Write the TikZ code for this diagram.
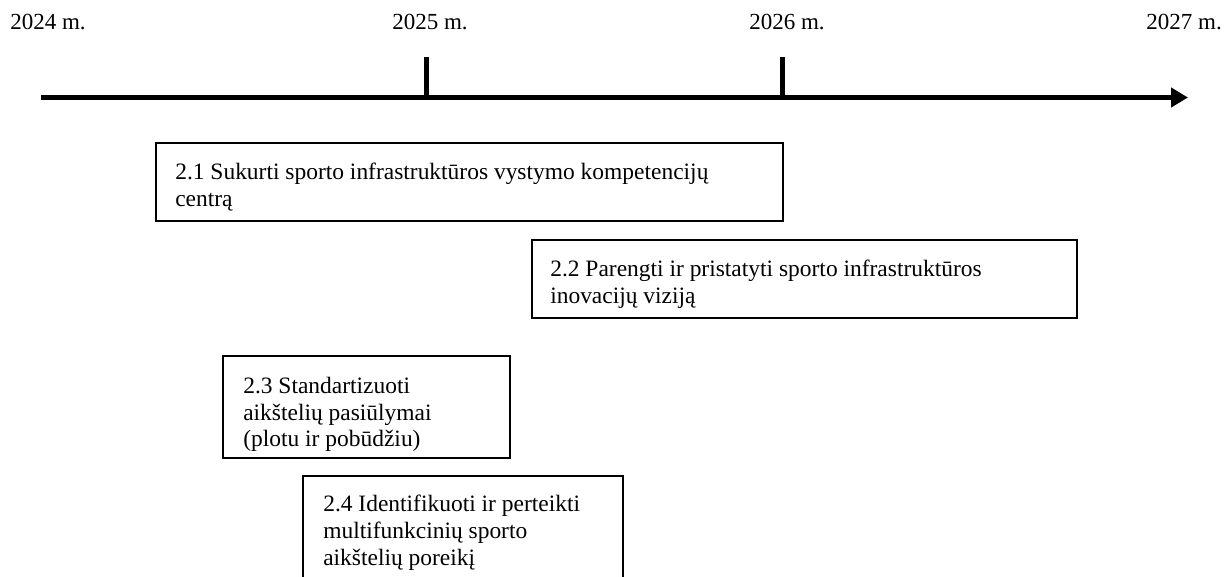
\documentclass[tikz,border=0pt]{standalone}
\usepackage{fontspec}
\setmainfont{Liberation Serif}
\usetikzlibrary{arrows.meta,calc}
\begin{document}
\begin{tikzpicture}[x=0.75pt,y=-0.75pt,
  box/.style={draw=black, line width=1.3pt, inner sep=0pt, anchor=north west},
  txt/.style={inner sep=0pt, anchor=north west, align=left, font=\fontsize{17.6}{20}\selectfont},
  year/.style={inner sep=0pt, font=\fontsize{17.25}{20}\selectfont},
  axis/.style={line width=3.75pt, -{Triangle[length=12.75pt,width=14.25pt]}},
  tickline/.style={line width=3.75pt}]
\useasboundingbox (0,0) rectangle (1230,576);
\clip (0,0) rectangle (1230,576);
% year labels
\node[year, anchor=base west] (y24) at (10,29) {2024 m.};
\node[year, anchor=base] (y25) at (430,29) {2025 m.};
\node[year, anchor=base] (y26) at (787,29) {2026 m.};
\node[year, anchor=base east] (y27) at (1222,29) {2027 m.};
% timeline
\coordinate (t0) at (41,97.5);
\coordinate (t1) at (1188,97.5);
\coordinate (k25b) at (426,97.5);
\coordinate (k25t) at (426,57);
\coordinate (k26b) at (782,97.5);
\coordinate (k26t) at (782,57);
\draw[tickline] (k25b) -- (k25t);
\draw[tickline] (k26b) -- (k26t);
\draw[axis] (t0) -- (t1);
% boxes
\node[box, minimum width=470.25pt, minimum height=58.5pt] (b1) at (155,142) {};
\node[txt] (x1) at ($(b1.north west)+(20,21)$) {2.1 Sukurti sporto infrastruktūros vystymo kompetencijų\\centrą};
\node[box, minimum width=408.75pt, minimum height=58.5pt] (b2) at (531,239) {};
\node[txt] (x2) at ($(b2.north west)+(19,21)$) {2.2 Parengti ir pristatyti sporto infrastruktūros\\inovacijų viziją};
\node[box, minimum width=215.25pt, minimum height=76.5pt] (b3) at (222,355) {};
\node[txt] (x3) at ($(b3.north west)+(21,22)$) {2.3 Standartizuoti\\aikštelių pasiūlymai\\(plotu ir pobūdžiu)};
\node[box, minimum width=240pt, minimum height=97.5pt] (b4) at (302,475) {};
\node[txt] (x4) at ($(b4.north west)+(21,20)$) {2.4 Identifikuoti ir perteikti\\multifunkcinių sporto\\aikštelių poreikį};
\end{tikzpicture}
\end{document}
